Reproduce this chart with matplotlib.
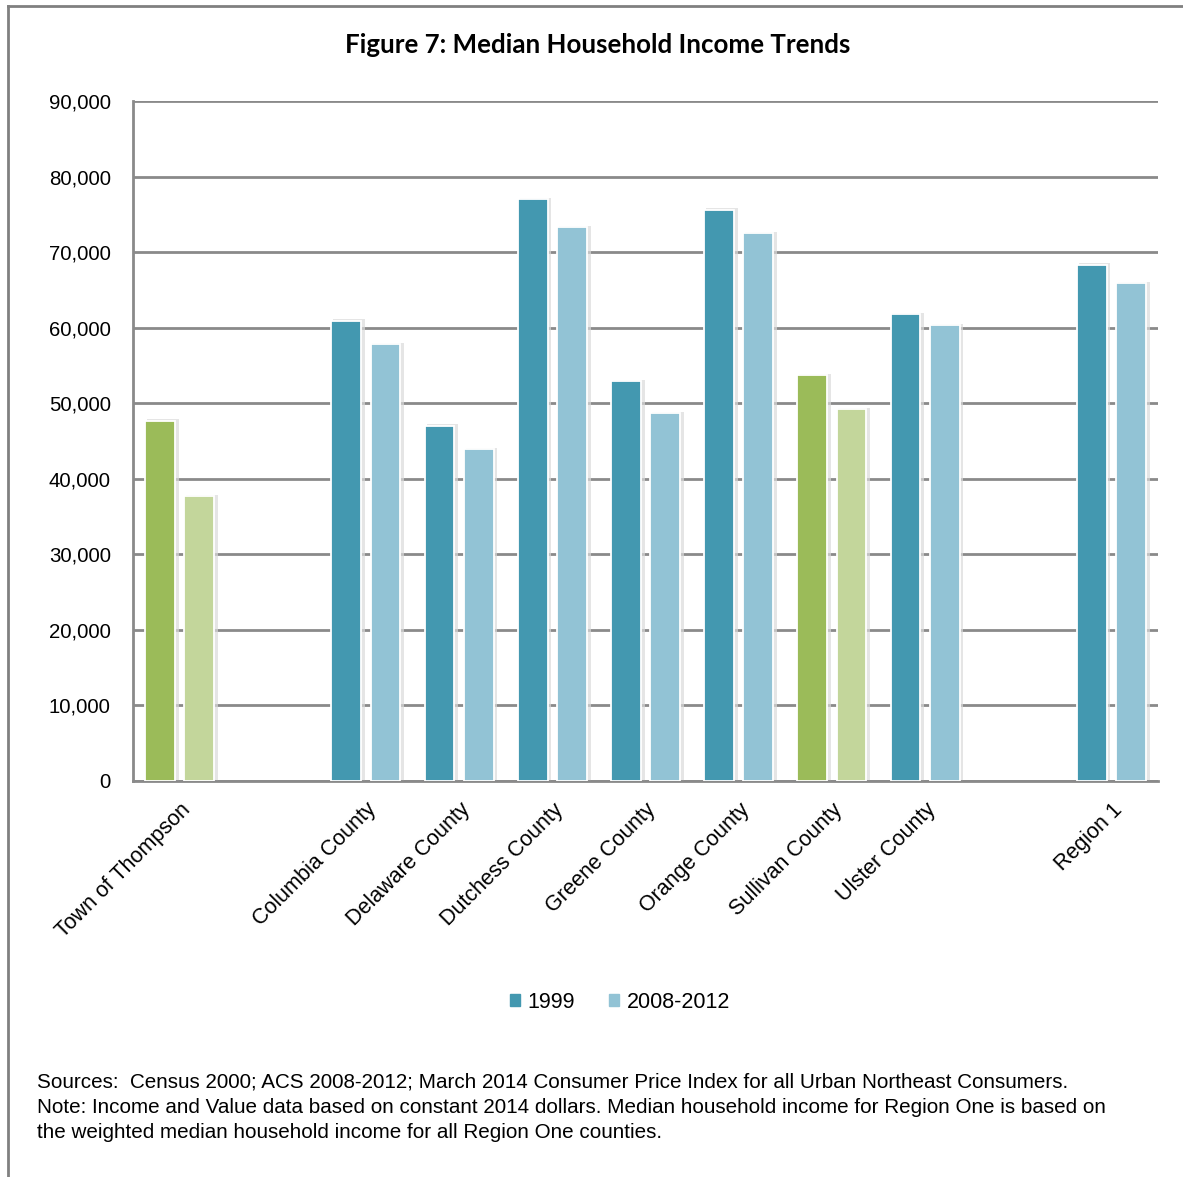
import matplotlib.pyplot as plt
import matplotlib.ticker as ticker
from matplotlib.lines import Line2D
from matplotlib.patches import Patch

# slots: '' entries are empty gaps in the category axis
categories = ['Town of Thompson', '', 'Columbia County', 'Delaware County',
              'Dutchess County', 'Greene County', 'Orange County',
              'Sullivan County', 'Ulster County', '', 'Region 1']
inc_1999 = [47700, None, 60900, 47000, 77000, 52900, 75600, 53700, 61800, None, 68300]
inc_2012 = [37700, None, 57800, 43900, 73300, 48700, 72500, 49200, 60300, None, 65900]
highlight = ['Town of Thompson', 'Sullivan County']

teal, teal_lt = '#4398b0', '#92c3d5'
green, green_lt = '#9bbb59', '#c3d69b'
gridc = '#8a8a8a'

plt.rcParams['font.family'] = ['Liberation Sans', 'DejaVu Sans']

fig = plt.figure(figsize=(11.83, 11.77), dpi=100)
ax = fig.add_axes([133/1183, 1-781/1177, (1158-133)/1183, 680/1177])

w = 0.32
off = 0.21
for i, cat in enumerate(categories):
    if not cat:
        continue
    c1, c2 = (green, green_lt) if cat in highlight else (teal, teal_lt)
    for dx, v, c in [(-off, inc_1999[i], c1), (off, inc_2012[i], c2)]:
        # soft shadow behind each bar
        ax.bar(i + dx + 0.03, v + 200, width=w + 0.02, color='#dadada', alpha=0.7, zorder=2)
        ax.bar(i + dx, v, width=w, color=c, edgecolor='white', linewidth=1.3, zorder=3)

ax.set_xlim(-0.5, len(categories) - 0.5)
ax.set_ylim(0, 90000)
ax.yaxis.set_major_locator(ticker.MultipleLocator(10000))
ax.yaxis.set_major_formatter(ticker.StrMethodFormatter('{x:,.0f}'))
ax.grid(axis='y', color=gridc, linewidth=2, zorder=1)
ax.set_axisbelow(True)
ax.set_xticks(range(len(categories)))
ax.set_xticklabels(categories, rotation=45, ha='right', rotation_mode='anchor', fontsize=15.5)
ax.tick_params(axis='y', length=0, labelsize=14.7, pad=16)
ax.tick_params(axis='x', length=0, pad=13)
for s in ['top', 'right']:
    ax.spines[s].set_visible(False)
for s in ['left', 'bottom']:
    ax.spines[s].set_color(gridc)
    ax.spines[s].set_linewidth(2)

fig.text(598/1183, 1-45/1177, 'Figure 7: Median Household Income Trends',
         ha='center', va='center', fontsize=18.6, fontweight='bold', family=['Lato', 'DejaVu Sans'])

handles = [Patch(color=teal, label='1999'), Patch(color=teal_lt, label='2008-2012')]
fig.legend(handles=handles, loc='center', bbox_to_anchor=(620/1183, 1-1002/1177), ncol=2,
           frameon=False, fontsize=15.5, handlelength=0.45, handleheight=0.45,
           handletextpad=0.35, columnspacing=1.6)

notes = ['Sources:  Census 2000; ACS 2008-2012; March 2014 Consumer Price Index for all Urban Northeast Consumers.',
         'Note: Income and Value data based on constant 2014 dollars. Median household income for Region One is based on',
         'the weighted median household income for all Region One counties.']
for k, line in enumerate(notes):
    fig.text(37/1183, 1-(1082 + 25.5*k)/1177, line, ha='left', va='center', fontsize=14.9)

# page frame: top and left edges
fig.add_artist(Line2D([8/1183, 1], [1-6/1177, 1-6/1177], color='#808080', linewidth=2))
fig.add_artist(Line2D([8/1183, 8/1183], [0, 1-6/1177], color='#808080', linewidth=2))

fig.savefig('out.png', dpi=100)
